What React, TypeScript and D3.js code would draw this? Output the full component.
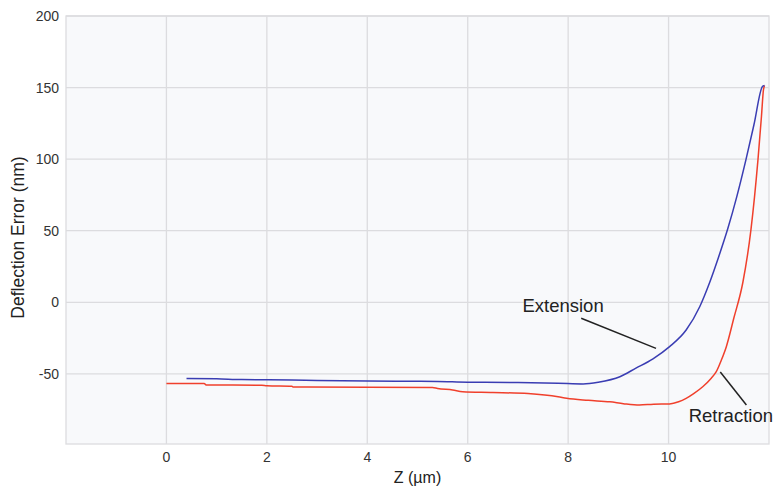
import React, { useEffect, useRef } from "react"
import * as d3 from "d3"

// extension curve (blue), z in µm, deflection error in nm
const extZ = [0.4, 1.0, 1.5, 2.5, 3.0, 4.0, 5.0, 5.4, 6.0, 7.0, 7.8, 8.3, 8.6, 9.03, 9.35, 9.69, 10.02, 10.35, 10.62, 10.82, 11.0, 11.18, 11.36, 11.54, 11.7, 11.87, 11.91]
const extDef = [-53.2, -53.5, -54.0, -54.3, -54.6, -55.0, -55.2, -55.3, -55.8, -56.0, -56.5, -57.0, -55.8, -52, -46, -39.5, -31, -19.4, -3.1, 14, 32, 51.5, 74, 99.5, 124, 150.8, 151.5]

// retraction curve (red)
const retZ = [0, 0.75, 0.8, 1.9, 2.0, 2.5, 2.52, 4.0, 5.3, 5.4, 5.7, 5.9, 6.5, 7.2, 7.8, 7.97, 8.4, 8.83, 9.1, 9.42, 9.7, 10.02, 10.2, 10.35, 10.5, 10.68, 10.85, 10.95, 11.05, 11.15, 11.3, 11.48, 11.64, 11.78, 11.85, 11.89, 11.91]
const retDef = [-56.7, -56.8, -57.8, -57.9, -58.3, -58.6, -59.2, -59.3, -59.5, -60.2, -61.3, -62.5, -63.0, -63.8, -66, -67.1, -68.5, -69.5, -70.8, -71.8, -71.2, -71.0, -69.5, -67.1, -63.8, -59, -53, -48.5, -40.5, -31, -11, 14, 50.6, 99.5, 130, 148.5, 151.5]

const xTicks = [0, 2, 4, 6, 8, 10]
const yTicks = [-50, 0, 50, 100, 150, 200]

// callout labels: text position and pointer line, in data units
const labelText = ["Extension", "Retraction"]
const labelPos = [[7.09, -6.8], [10.4, -83.9]]
const pointerFrom = [[8.26, -11.2], [11.03, -48.7]]
const pointerTo = [[9.75, -32.2], [11.55, -71.8]]

const W = 776
const H = 487
const font = "'Liberation Sans', Arial, sans-serif"

export default function App() {
  const ref = useRef<SVGSVGElement>(null)

  useEffect(() => {
    const svg = d3.select(ref.current)
    svg.selectAll("*").remove()

    const left = 66, right = 769, top = 16, bottom = 444
    const x = d3.scaleLinear().domain([-2, 12]).range([left, right])
    const y = d3.scaleLinear().domain([-99, 200]).range([bottom, top])

    svg.append("rect").attr("width", W).attr("height", H).attr("fill", "#fff")
    svg.append("rect")
      .attr("x", left).attr("y", top)
      .attr("width", right - left).attr("height", bottom - top)
      .attr("fill", "#f8f9fb")
      .attr("stroke", "#dcdcdf")
      .attr("stroke-width", 1.3)

    const grid = svg.append("g").attr("stroke", "#dcdcdf").attr("stroke-width", 1.3)
    grid.selectAll("line.v").data(xTicks).enter().append("line")
      .attr("x1", d => x(d)).attr("x2", d => x(d))
      .attr("y1", top).attr("y2", bottom)
    grid.selectAll("line.h").data(yTicks).enter().append("line")
      .attr("y1", d => y(d)).attr("y2", d => y(d))
      .attr("x1", left).attr("x2", right)

    svg.append("g").selectAll("text").data(xTicks).enter().append("text")
      .attr("x", d => x(d)).attr("y", 462)
      .attr("text-anchor", "middle")
      .attr("font-family", font).attr("font-size", 14).attr("fill", "#333")
      .text(d => d)
    svg.append("g").selectAll("text").data(yTicks).enter().append("text")
      .attr("x", 59).attr("y", d => y(d) + 5)
      .attr("text-anchor", "end")
      .attr("font-family", font).attr("font-size", 14).attr("fill", "#333")
      .text(d => d)

    svg.append("text")
      .attr("x", x(5)).attr("y", 483)
      .attr("text-anchor", "middle")
      .attr("font-family", font).attr("font-size", 16).attr("fill", "#222")
      .text("Z (µm)")
    svg.append("text")
      .attr("transform", "translate(24,237.5) rotate(-90)")
      .attr("text-anchor", "middle")
      .attr("font-family", font).attr("font-size", 17.5).attr("fill", "#222")
      .text("Deflection Error (nm)")

    const curve = (zs: number[], vs: number[]) =>
      d3.line<number>()
        .x(d => x(d))
        .y((d, i) => y(vs[i]))
        .curve(d3.curveMonotoneX)(zs)

    svg.append("path")
      .attr("d", curve(retZ, retDef))
      .attr("fill", "none").attr("stroke", "#f0402c").attr("stroke-width", 1.5)
    svg.append("path")
      .attr("d", curve(extZ, extDef))
      .attr("fill", "none").attr("stroke", "#3a3db3").attr("stroke-width", 1.5)

    const ann = svg.append("g")
    labelText.forEach((t, i) => {
      ann.append("line")
        .attr("x1", x(pointerFrom[i][0])).attr("y1", y(pointerFrom[i][1]))
        .attr("x2", x(pointerTo[i][0])).attr("y2", y(pointerTo[i][1]))
        .attr("stroke", "#222").attr("stroke-width", 1.5)
      ann.append("text")
        .attr("x", x(labelPos[i][0])).attr("y", y(labelPos[i][1]))
        .attr("font-family", font).attr("font-size", 18.5).attr("fill", "#222")
        .text(t)
    })
  }, [])

  return (
    <svg ref={ref} width={W} height={H}
      style={{ position: "absolute", left: 0, top: 0, display: "block" }} />
  )
}
